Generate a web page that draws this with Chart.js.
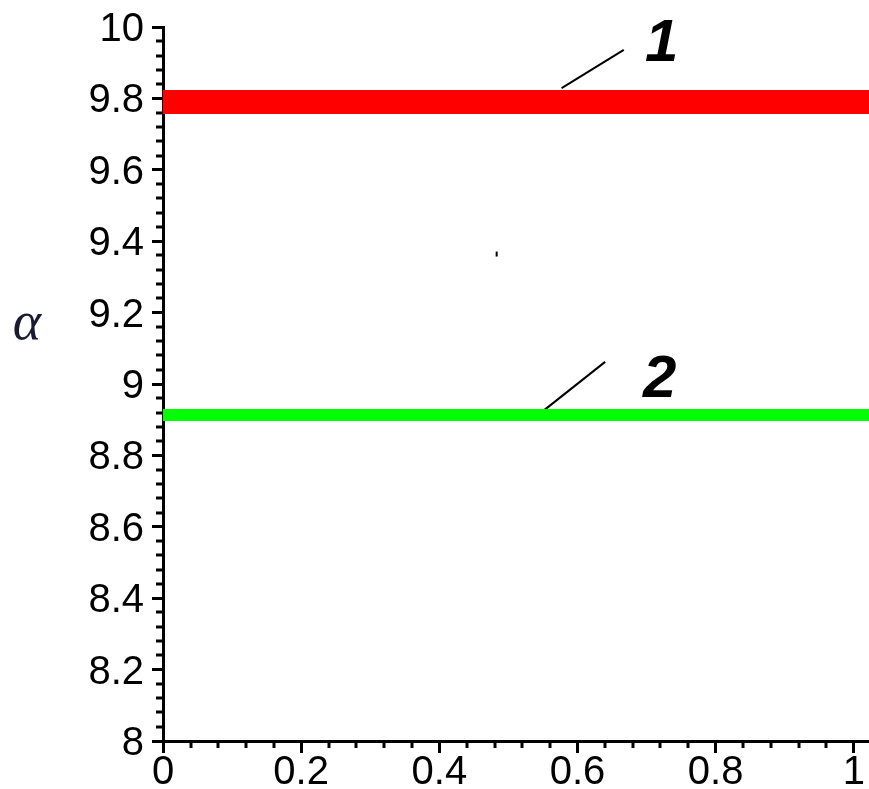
<!DOCTYPE html>
<html>
<head>
<meta charset="utf-8">
<script src="https://cdn.jsdelivr.net/npm/chart.js@4/dist/chart.umd.min.js"></script>
<style>
  html, body { margin: 0; padding: 0; background: #fff; }
  #wrap { width: 869px; height: 789px; }
</style>
</head>
<body>
<div id="wrap"><canvas id="plot" width="869" height="789"></canvas></div>
<script>
// axis ranges
const xRange = [0, 1.022]
const yRange = [8, 10]
const majorStep = 0.2
const minorStep = 0.04

// the two horizontal curves
const curveNames = ['1', '2']
const curveValues = [9.79, 8.913]
const curveColors = ['#ff0000', '#00ff00']

// leader lines from the curves to their numbers: [x0, y0, x1, y1]
const leader1 = [0.577, 9.829, 0.667, 9.936]
const leader2 = [0.550, 8.924, 0.640, 9.062]
// where the numbers sit
const nameX = [0.722, 0.719]
const nameY = [9.95, 9.011]

// stray dot in the plot
const dotX = [0.483]
const dotY = [9.364]

const yTitle = 'α'
const yTitleAt = 9.165

const datasets = []
curveValues.forEach(function (v, i) {
  datasets.push({
    label: curveNames[i],
    data: [{ x: xRange[0], y: v }, { x: xRange[1], y: v }],
    borderColor: curveColors[i],
    borderWidth: i == 0 ? 24 : 12,
    borderCapStyle: 'butt',
    pointRadius: 0
  })
})
;[leader1, leader2].forEach(function (l) {
  datasets.push({
    data: [{ x: l[0], y: l[1] }, { x: l[2], y: l[3] }],
    borderColor: '#000',
    borderWidth: 2,
    pointRadius: 0
  })
})
datasets.push({
  data: dotX.map(function (x, i) { return { x: x, y: dotY[i] } }),
  showLine: false,
  pointStyle: 'line',
  rotation: 90,
  pointRadius: 2.5,
  borderColor: '#000',
  borderWidth: 2
})

const minorTicks = {
  id: 'minorTicks',
  afterDraw(chart) {
    const ctx = chart.ctx
    const xs = chart.scales.x
    const ys = chart.scales.y
    const area = chart.chartArea
    ctx.save()
    ctx.strokeStyle = '#000'
    ctx.lineWidth = 3
    ctx.beginPath()
    for (let i = 1; i * minorStep <= 1.0001; i++) {
      if (i % 5 == 0) continue
      const px = Math.round(xs.getPixelForValue(i * minorStep))
      ctx.moveTo(px, area.bottom)
      ctx.lineTo(px, area.bottom + 7)
    }
    for (let i = 1; yRange[0] + i * minorStep < yRange[1] - 0.0001; i++) {
      if (i % 5 == 0) continue
      const py = Math.round(ys.getPixelForValue(yRange[0] + i * minorStep))
      ctx.moveTo(area.left - 7, py)
      ctx.lineTo(area.left, py)
    }
    ctx.stroke()

    // curve numbers
    ctx.fillStyle = '#000'
    ctx.font = 'italic bold 60px "Liberation Sans"'
    ctx.textAlign = 'center'
    ctx.textBaseline = 'middle'
    curveNames.forEach(function (n, i) {
      ctx.fillText(n, xs.getPixelForValue(nameX[i]), ys.getPixelForValue(nameY[i]))
    })

    // y axis title
    ctx.fillStyle = '#1a1a33'
    ctx.font = 'italic 54px "Liberation Serif"'
    ctx.fillText(yTitle, 27, ys.getPixelForValue(yTitleAt))
    ctx.restore()
  }
}

const tickFont = { family: 'Liberation Sans', size: 40 }
function fmt(v) { return String(Number(v.toFixed(1))) }

new Chart(document.getElementById('plot'), {
  type: 'line',
  data: { datasets: datasets },
  options: {
    responsive: false,
    animation: false,
    layout: { autoPadding: false, padding: { top: 27, right: 0, left: 0, bottom: 0 } },
    plugins: { legend: { display: false }, tooltip: { enabled: false } },
    scales: {
      x: {
        type: 'linear',
        min: xRange[0],
        max: xRange[1],
        z: 1,
        grid: { drawOnChartArea: false, drawTicks: true, tickLength: 12, tickColor: '#000', tickWidth: 3 },
        border: { display: true, color: '#000', width: 3 },
        ticks: { stepSize: majorStep, includeBounds: false, color: '#000', font: tickFont, padding: -4, maxRotation: 0, autoSkip: false, callback: fmt },
        afterFit(scale) {
          scale.height = 48
          scale.paddingLeft = 0
          scale.paddingRight = 0
        }
      },
      y: {
        type: 'linear',
        min: yRange[0],
        max: yRange[1],
        z: 1,
        grid: { drawOnChartArea: false, drawTicks: true, tickLength: 11, tickColor: '#000', tickWidth: 3 },
        border: { display: true, color: '#000', width: 3 },
        ticks: { stepSize: majorStep, color: '#000', font: tickFont, padding: 8, labelOffset: 3, autoSkip: false, callback: fmt },
        afterFit(scale) {
          scale.width = 163
          scale.paddingTop = 0
          scale.paddingBottom = 0
        }
      }
    }
  },
  plugins: [minorTicks]
})
</script>
</body>
</html>
